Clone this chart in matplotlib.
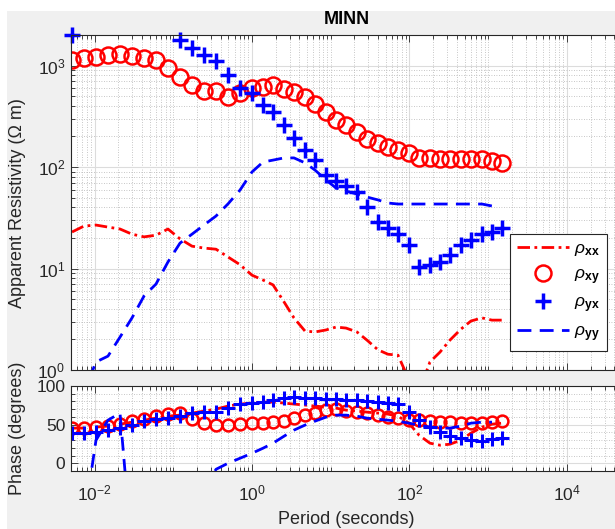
import matplotlib
matplotlib.use("Agg")
import matplotlib.pyplot as plt
import numpy as np
from matplotlib.ticker import LogLocator, FixedLocator, FuncFormatter, MultipleLocator, NullFormatter
from matplotlib.patches import Rectangle

plt.rcParams['font.family'] = 'Liberation Sans'
plt.rcParams['mathtext.fontset'] = 'custom'
plt.rcParams['mathtext.rm'] = 'Liberation Sans'
plt.rcParams['mathtext.it'] = 'Liberation Sans:italic'
plt.rcParams['mathtext.bf'] = 'Liberation Sans:bold'

# station MINN, period in seconds
periods = [0.00518, 0.00736, 0.01045, 0.01483, 0.02109, 0.02992, 0.04256, 0.06039,
           0.0857, 0.1219, 0.173, 0.2455, 0.3491, 0.4955, 0.7047, 1.0, 1.38, 1.849,
           2.547, 3.412, 4.71, 6.31, 8.71, 11.67, 15.63, 21.53, 28.84, 39.81, 53.33,
           71.45, 98.6, 132.1, 182.0, 243.8, 326.6, 450.8, 603.9, 833.7, 1117, 1496]

nan = np.nan

# apparent resistivity (ohm m)
rho_xx = [22.9, 26.2, 26.8, 25.6, 24.5, 21.8, 20.5, 21.3, 24.5, 19.6, 16.6, 15.9, 15.5,
          13.0, 10.9, 8.6, 7.7, 6.9, 4.7, 3.26, 2.42, 2.37, 2.48, 2.65, 2.59, 2.37, 1.97,
          1.58, 1.43, 1.40, 0.80, 0.61, 1.20, 1.50, 1.97, 2.53, 3.04, 3.26, 3.10, 3.10]
rho_xy = [1133, 1186, 1213, 1269, 1298, 1240, 1186, 1133, 945, 770, 642, 561, 561, 490,
          536, 600, 614, 642, 586, 548, 490, 418, 348, 291, 260, 221, 188, 172, 158, 147,
          137, 123, 123, 120, 120, 120, 120, 120, 114, 110]
# off scale values left out
rho_yx = [1980, nan, nan, nan, nan, nan, nan, nan, nan, 1786, 1486, 1269, 1107, 806, 600,
          536, 408, 348, 260, 193, 147, 117, 83.5, 73, 64.7, 57.3, 40.4, 28.9, 25.1, 21.8,
          17.1, 10.3, 10.9, 11.6, 13.6, 17.1, 19.0, 21.8, 22.9, 25.1]
rho_yy = [0.32, 0.61, 1.20, 1.37, 2.11, 3.26, 5.36, 7.03, 11.6, 17.8, 21.8, 26.8, 32.9,
          43.3, 59.3, 89.4, 112, 117, 123, 123, 110, 93.4, 74.5, 62.2, 58, 54.2, 50.6,
          47.4, 44.2, 43.2, 43.2, 43.2, 43.2, 43.2, 43.2, 43.2, 43.2, 43.2, 41.3, nan]

# phase (degrees)
phase_xx = [45.5, 45.5, 46.8, 48.1, 50.6, 53.2, 55.8, 58.4, 61.0, 62.3, 64.9, 67.5, 70.1,
            74.0, 76.6, 77.9, 79.2, 79.2, 77.9, 76.6, 75.3, 74.0, 72.7, 71.4, 68.8, 67.5,
            66.2, 64.9, 63.6, 61.0, 51.9, 36.4, 26.0, 23.4, 24.7, 29.9, 39.0, 46.8, 50.6, 51.9]
phase_xy = [45.5, 45.5, 46.8, 48.1, 50.6, 54.5, 57.1, 61.0, 63.6, 64.9, 57.1, 51.9, 49.4,
            49.4, 50.6, 51.9, 51.9, 53.2, 54.5, 58.4, 62.3, 64.9, 68.8, 70.1, 67.5, 66.2,
            64.9, 62.3, 59.7, 58.4, 55.8, 55.8, 54.5, 53.2, 53.2, 51.9, 51.9, 51.9, 53.2, 54.5]
phase_yx = [39.0, 39.0, 40.3, 42.9, 45.5, 49.4, 54.5, 57.1, 58.4, 61.0, 64.9, 66.2, 66.2,
            71.4, 76.6, 77.9, 79.2, 81.8, 84.4, 85.7, 84.4, 84.4, 83.1, 83.1, 81.8, 81.8,
            80.5, 79.2, 77.9, 76.6, 66.2, 55.8, 46.8, 40.3, 35.1, 32.5, 29.9, 28.6, 31.2, 32.5]
phase_yy = [-90, -74, 29.9, 55.8, 64.9, -116, -95, -80, -70, -60, -50, -35, -7.8, 0, 6.5,
            13, 19.5, 26, 35, 42.9, 49.4, 54.5, 59.7, 62.3, 62.3, 61, 58.4, 57, 55.8, 54.5,
            51.9, 49.4, 46.8, 45.5, 45.5, 48.1, 51.9, 53.2, 53.2, nan]

W, H = 615, 529
fig = plt.figure(figsize=(W / 100, H / 100), dpi=100, facecolor='white')
fig.add_artist(Rectangle((7 / W, 0), 1, 1 - 11 / H, transform=fig.transFigure,
                         facecolor='#f0f0f0', edgecolor='none', zorder=-10))

left, right = 70.8, 622
ax1 = fig.add_axes([left / W, 1 - 370 / H, (right - left) / W, 335 / H])
ax2 = fig.add_axes([left / W, 1 - 471 / H, (right - left) / W, 85 / H])

dashdot = (0, (4.5, 1.6, 1, 1.6))
dashed = (0, (5, 3))

ax1.plot(periods, rho_xx, color='r', lw=2, ls=dashdot, label=r'$\rho_{\mathbf{xx}}$')
ax1.plot(periods, rho_xy, 'o', mfc='none', mec='r', ms=11.5, mew=1.8, label=r'$\rho_{\mathbf{xy}}$')
ax1.plot(periods, rho_yx, '+', color='b', ms=12, mew=2.5, clip_on=False, label=r'$\rho_{\mathbf{yx}}$')
ax1.plot(periods, rho_yy, color='b', lw=2, ls=dashed, label=r'$\rho_{\mathbf{yy}}$')

ax2.plot(periods, phase_xx, color='r', lw=2, ls=dashdot)
ax2.plot(periods, phase_xy, 'o', mfc='none', mec='r', ms=8.5, mew=1.8)
ax2.plot(periods, phase_yx, '+', color='b', ms=9.5, mew=2.2)
ax2.plot(periods, phase_yy, color='b', lw=2, ls=dashed)

def pow10(v, pos):
    return r'$10^{%d}$' % int(round(np.log10(v)))

for ax in (ax1, ax2):
    ax.set_facecolor('white')
    ax.set_xscale('log')
    ax.set_xlim(5e-3, 5e4)
    ax.xaxis.set_major_locator(FixedLocator([1e-2, 1, 1e2, 1e4]))
    ax.xaxis.set_minor_locator(LogLocator(base=10, subs=np.arange(1, 10), numticks=100))
    ax.xaxis.set_major_formatter(FuncFormatter(pow10))
    ax.xaxis.set_minor_formatter(NullFormatter())
    ax.grid(True, which='major', color='#dcdcdc', lw=0.8, ls='-')
    ax.grid(True, which='minor', color='#b4b4b4', lw=0.6, ls=(0, (1, 2)))
    ax.set_axisbelow(True)
    ax.tick_params(which='both', direction='in', top=True, right=True,
                   colors='#262626', labelsize=12.5, width=0.6)
    ax.tick_params(which='major', length=5, pad=4)
    ax.tick_params(which='minor', length=3)
    for s in ax.spines.values():
        s.set_color('#262626')
        s.set_linewidth(0.8)

ax1.set_yscale('log')
ax1.set_ylim(1, 2000)
ax1.yaxis.set_major_locator(LogLocator(base=10, numticks=10))
ax1.yaxis.set_minor_locator(LogLocator(base=10, subs=np.arange(2, 10), numticks=10))
ax1.yaxis.set_major_formatter(FuncFormatter(pow10))
ax1.yaxis.set_minor_formatter(NullFormatter())
ax1.tick_params(labelbottom=False)

ax2.set_ylim(-10, 100)
ax2.set_yticks([0, 50, 100])
ax2.yaxis.set_minor_locator(MultipleLocator(10))
ax2.tick_params(axis='x', which='major', pad=9)

ax1.set_title('MINN', fontweight='bold', fontsize=13, pad=8)
fig.text(18 / W, 1 - 203 / H, 'Apparent Resistivity (Ω m)', fontsize=13,
         rotation=90, ha='center', va='center', color='#262626')
fig.text(18 / W, 1 - 428 / H, 'Phase (degrees)', fontsize=13,
         rotation=90, ha='center', va='center', color='#262626')
fig.text(346 / W, 1 - 520 / H, 'Period (seconds)', fontsize=13,
         ha='center', va='center', color='#262626')

leg = ax1.legend(loc='upper right', bbox_to_anchor=(607 / W, 1 - 234 / H),
                 bbox_transform=fig.transFigure, borderaxespad=0, fancybox=False,
                 edgecolor='#262626', framealpha=1, fontsize=12.5, handlelength=3.0,
                 labelspacing=0.5, borderpad=0.4, handletextpad=0.3)
leg.get_frame().set_linewidth(0.8)

fig.savefig('out.png', dpi=100)
